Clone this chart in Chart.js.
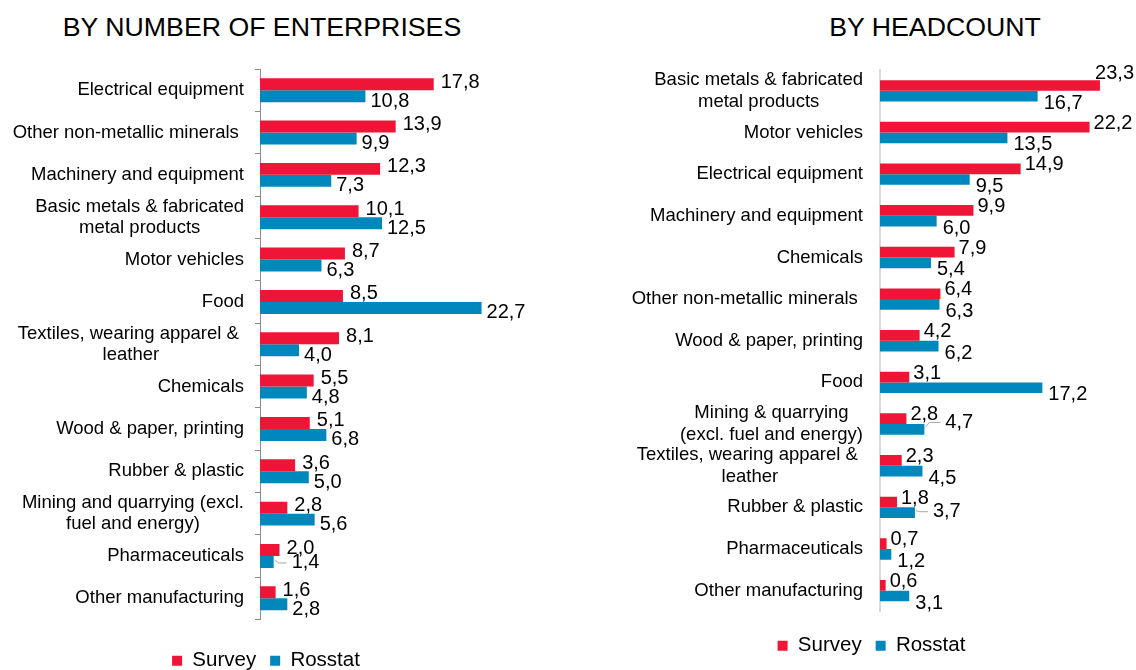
<!DOCTYPE html>
<html>
<head>
<meta charset="utf-8">
<script src="https://cdn.jsdelivr.net/npm/chart.js@4.4.1/dist/chart.umd.min.js"></script>
<style>
  html, body { margin: 0; padding: 0; background: #fff; }
  body { width: 1136px; height: 670px; position: relative; overflow: hidden; font-family: "Liberation Sans", Arial, sans-serif; }
  .title { position: absolute; top: 12px; font-size: 26.7px; color: #000; white-space: nowrap; transform: translateX(-50%); }
  #title1 { left: 262px; }
  #title2 { left: 935px; }
  .box { position: absolute; top: 0; height: 681px; }
  #box1 { left: 0; width: 530px; }
  #box2 { left: 600px; width: 536px; }
</style>
</head>
<body>
<div class="title" id="title1">BY NUMBER OF ENTERPRISES</div>
<div class="title" id="title2">BY HEADCOUNT</div>
<div class="box" id="box1"><canvas id="enterprises"></canvas></div>
<div class="box" id="box2"><canvas id="headcount"></canvas></div>
<script>
const FONT = '"Liberation Sans", Arial, sans-serif';
const RED = '#EE1537';
const BLUE = '#0088BC';

// share of enterprises, %
const enterpriseCategories = [
  'Electrical equipment',
  'Other non-metallic minerals ',
  'Machinery and equipment',
  ['Basic metals & fabricated', 'metal products'],
  'Motor vehicles',
  'Food',
  ['Textiles, wearing apparel & ', 'leather'],
  'Chemicals',
  'Wood & paper, printing',
  'Rubber & plastic',
  ['Mining and quarrying (excl.', 'fuel and energy)'],
  'Pharmaceuticals',
  'Other manufacturing'
];
const enterpriseSurvey  = [17.8, 13.9, 12.3, 10.1, 8.7, 8.5, 8.1, 5.5, 5.1, 3.6, 2.8, 2.0, 1.6];
const enterpriseRosstat = [10.8, 9.9, 7.3, 12.5, 6.3, 22.7, 4.0, 4.8, 6.8, 5.0, 5.6, 1.4, 2.8];

// share of headcount, %
const headcountCategories = [
  ['Basic metals & fabricated', 'metal products'],
  'Motor vehicles',
  'Electrical equipment',
  'Machinery and equipment',
  'Chemicals',
  'Other non-metallic minerals ',
  'Wood & paper, printing',
  'Food',
  ['Mining & quarrying', '(excl. fuel and energy)'],
  ['Textiles, wearing apparel & ', 'leather'],
  'Rubber & plastic',
  'Pharmaceuticals',
  'Other manufacturing'
];
const headcountSurvey  = [23.3, 22.2, 14.9, 9.9, 7.9, 6.4, 4.2, 3.1, 2.8, 2.3, 1.8, 0.7, 0.6];
const headcountRosstat = [16.7, 13.5, 9.5, 6.0, 5.4, 6.3, 6.2, 17.2, 4.7, 4.5, 3.7, 1.2, 3.1];

const seriesNames = ['Survey', 'Rosstat'];
const xMax = 25;

function fmt(v) {
  return v.toFixed(1).replace('.', ',');
}

// category names, multi-line ones centred inside a right-aligned block
const categoryLabels = {
  id: 'categoryLabels',
  afterDraw(chart, args, opts) {
    const ctx = chart.ctx;
    const scale = chart.scales.y;
    ctx.save();
    ctx.font = '18.5px ' + FONT;
    ctx.fillStyle = '#000';
    ctx.textAlign = 'center';
    ctx.textBaseline = 'middle';
    chart.data.labels.forEach((label, i) => {
      const lines = [].concat(label);
      const block = Math.max(...lines.map(l => ctx.measureText(l).width));
      const cx = scale.right - opts.gap - block / 2;
      const y0 = scale.getPixelForValue(i) - (lines.length - 1) * opts.lineHeight / 2;
      lines.forEach((l, k) => ctx.fillText(l, cx, y0 + k * opts.lineHeight));
    });
    ctx.restore();
  }
};

// value labels next to the bar ends; a few are pushed aside with a leader line
const valueLabels = {
  id: 'valueLabels',
  afterDatasetsDraw(chart, args, opts) {
    const ctx = chart.ctx;
    ctx.save();
    ctx.font = '20px ' + FONT;
    ctx.textAlign = 'left';
    ctx.textBaseline = 'middle';
    chart.data.datasets.forEach((ds, di) => {
      const meta = chart.getDatasetMeta(di);
      const [dx, dy] = opts.offsets[di];
      meta.data.forEach((bar, i) => {
        const text = fmt(ds.data[i]);
        const w = ctx.measureText(text).width;
        let x = bar.x + dx;
        let y = bar.y + dy;
        if (x + w > chart.width - 2) {
          x = chart.width - 2 - w;
          y -= 8;
        }
        const moved = opts.moved[di + ':' + i];
        if (moved) {
          x += moved[0];
          y += moved[1];
          ctx.strokeStyle = '#a6a6a6';
          ctx.lineWidth = 1;
          ctx.beginPath();
          ctx.moveTo(bar.x + 1, bar.y - 2);
          ctx.lineTo(bar.x + 5, y);
          ctx.lineTo(x - 5, y);
          ctx.stroke();
        }
        ctx.fillStyle = '#000';
        ctx.fillText(text, x, y);
      });
    });
    ctx.restore();
  }
};

function makeChart(id, cfg) {
  return new Chart(document.getElementById(id), {
    type: 'bar',
    data: {
      labels: cfg.labels,
      datasets: [
        { label: seriesNames[0], data: cfg.survey, backgroundColor: RED },
        { label: seriesNames[1], data: cfg.rosstat, backgroundColor: BLUE }
      ]
    },
    options: {
      indexAxis: 'y',
      responsive: true,
      maintainAspectRatio: false,
      animation: false,
      categoryPercentage: cfg.categoryPercentage,
      barPercentage: 1,
      layout: { padding: cfg.padding },
      scales: {
        x: {
          min: 0,
          max: xMax,
          ticks: { display: false },
          grid: { display: false },
          border: { display: false },
          afterFit(s) { s.height = cfg.xGap; }
        },
        y: {
          ticks: { display: false },
          grid: cfg.grid,
          border: cfg.border,
          afterFit(s) { s.width = cfg.axisWidth; }
        }
      },
      plugins: {
        legend: {
          position: 'bottom',
          labels: {
            boxWidth: 10,
            boxHeight: 10,
            padding: 14,
            color: '#000',
            font: { family: FONT, size: 20.5 }
          }
        },
        tooltip: { enabled: false },
        categoryLabels: { gap: cfg.labelGap, lineHeight: cfg.lineHeight },
        valueLabels: { offsets: cfg.offsets, moved: cfg.moved }
      }
    },
    plugins: [categoryLabels, valueLabels]
  });
}

makeChart('enterprises', {
  labels: enterpriseCategories,
  survey: enterpriseSurvey,
  rosstat: enterpriseRosstat,
  categoryPercentage: 0.566,
  padding: { top: 69, right: 26, bottom: 0, left: 28 },
  axisWidth: 232,
  xGap: 17,
  grid: { display: true, drawOnChartArea: false, drawTicks: true, tickLength: 5, color: '#8c8c8c' },
  border: { display: true, color: '#8c8c8c', width: 1 },
  labelGap: 16,
  lineHeight: 21,
  offsets: [[7, -2], [5, 5]],
  moved: { '1:11': [13, -4] }
});

makeChart('headcount', {
  labels: headcountCategories,
  survey: headcountSurvey,
  rosstat: headcountRosstat,
  categoryPercentage: 0.513,
  padding: { top: 70, right: 20, bottom: 15, left: 27 },
  axisWidth: 253,
  xGap: 10,
  grid: { display: false },
  border: { display: true, color: '#d9d9d9', width: 2 },
  labelGap: 17,
  lineHeight: 22,
  offsets: [[4, -4], [6, 7]],
  moved: { '1:8': [15, -14], '1:10': [12, -8] }
});
</script>
</body>
</html>
